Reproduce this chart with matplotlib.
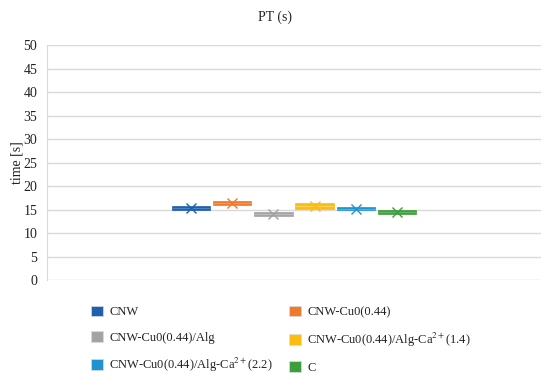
import matplotlib.pyplot as plt
from matplotlib.patches import Patch

plt.rcParams['font.family'] = ['Liberation Serif', 'DejaVu Serif']
plt.rcParams['mathtext.fontset'] = 'stix'

# box-plot statistics (time in s)
labels = ['CNW', 'CNW-Cu0(0.44)', 'CNW-Cu0(0.44)/Alg',
          'CNW-Cu0(0.44)/Alg-Ca$^{2+}$(1.4)', 'CNW-Cu0(0.44)/Alg-Ca$^{2+}$(2.2)', 'C']
q1 = [15.0, 16.0, 13.6, 15.2, 14.9, 14.0]
medians = [15.3, 16.4, 14.0, 15.8, 15.2, 14.4]
q3 = [15.7, 16.9, 14.5, 16.4, 15.6, 14.8]
means = [15.4, 16.4, 14.0, 15.8, 15.2, 14.4]
colors = ['#1f5fad', '#ef7a2e', '#a3a3a3', '#fbbd10', '#1f93cf', '#3d9e3c']
lighter = ['#4a82c6', '#f59a5a', '#bdbdbd', '#fdd35a', '#52b0e0', '#62b860']

stats = []
for i in range(len(labels)):
    stats.append({'label': labels[i], 'q1': q1[i], 'med': medians[i], 'q3': q3[i],
                  'mean': means[i], 'whislo': q1[i], 'whishi': q3[i], 'fliers': []})

fig = plt.figure(figsize=(5.5, 3.75), dpi=100)
ax = fig.add_axes([0.0855, 0.2533, 0.898, 0.6267])

for i, s in enumerate(stats):
    ax.bxp([s], positions=[i], widths=0.93, patch_artist=True, showmeans=True,
           showcaps=False,
           boxprops=dict(facecolor=colors[i], edgecolor=colors[i], linewidth=0.5),
           medianprops=dict(color=lighter[i], linewidth=0.8),
           whiskerprops=dict(color=colors[i], linewidth=0.8),
           meanprops=dict(marker='x', markeredgecolor=colors[i], markersize=6.5,
                          markeredgewidth=1.0),
           zorder=3)

ax.set_xlim(-3.5, 8.5)
ax.set_ylim(0, 50)
ax.set_yticks(range(0, 51, 5))
ax.set_xticks([])
ax.yaxis.grid(True, color='#d9d9d9', linewidth=1)
ax.set_axisbelow(True)
ax.tick_params(axis='y', length=0, labelsize=10, pad=7, colors='#222222')
for side in ['top', 'right', 'bottom']:
    ax.spines[side].set_visible(False)
ax.spines['left'].set_color('#d9d9d9')
ax.set_ylabel('time [s]', fontsize=10, labelpad=0, color='#222222')

fig.text(0.5, 0.955, 'PT (s)', ha='center', va='center', fontsize=10, color='#222222')

handles = [Patch(facecolor=c, edgecolor='#dddddd', linewidth=0.5) for c in colors]
order = [0, 2, 4, 1, 3, 5]
fig.legend([handles[i] for i in order], [labels[i] for i in order],
           ncol=2, loc='upper left', bbox_to_anchor=(0.145, 0.215),
           frameon=False, fontsize=9, handlelength=0.95, handleheight=0.95,
           handletextpad=0.5, columnspacing=1.3, labelspacing=1.0,
           labelcolor='#222222')

fig.savefig('out.png', dpi=100)
